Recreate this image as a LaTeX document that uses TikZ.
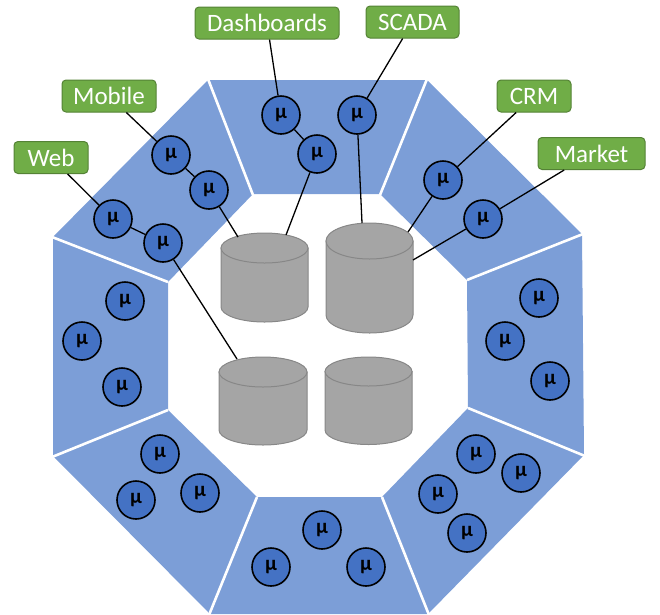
\documentclass[tikz,border=0pt]{standalone}
\usepackage{fontspec}
\setmainfont{Carlito}
\definecolor{segblue}{HTML}{7C9ED7}
\definecolor{msblue}{HTML}{4472C4}
\definecolor{lblgreen}{HTML}{70AD47}
\definecolor{lblborder}{HTML}{548235}
\definecolor{cylgray}{HTML}{A5A5A5}
\definecolor{cylborder}{HTML}{878787}
\begin{document}
\begin{tikzpicture}[x=1pt,y=-1pt,
  ms/.style={circle, draw=black, line width=1.6pt, fill=msblue, minimum size=38pt, inner sep=0pt,
    font=\bfseries\fontsize{21}{21}\selectfont},
  lbl/.style={rounded corners=4pt, draw=lblborder, line width=1pt, fill=lblgreen, text=white,
    font=\fontsize{25}{25}\selectfont, minimum height=32pt, inner sep=0pt},
  link/.style={draw=black, line width=1.3pt},
  cyl/.style={fill=cylgray, draw=cylborder, line width=1pt},
  sep/.style={draw=white, line width=2.6pt}
]
\useasboundingbox (0,0) rectangle (660,614);
% ring of segments
\fill[segblue, even odd rule]
  (208,80) -- (427,80) -- (582,234) -- (584,455) -- (428,614) -- (210,614) -- (53,456) -- (53,237) -- cycle
  (253,194) -- (380,194) -- (467,280) -- (468,408) -- (382,497) -- (257,497) -- (168,410) -- (168,282) -- cycle;
\draw[sep] (208,79) -- (253,195);
\draw[sep] (427,79) -- (380,195);
\draw[sep] (583,234) -- (467,280);
\draw[sep] (585,456) -- (468,408);
\draw[sep] (429,615) -- (382,497);
\draw[sep] (209,615) -- (257,497);
\draw[sep] (52,457) -- (168,410);
\draw[sep] (52,237) -- (168,282);
% cylinders
\filldraw[cyl] (221,248) -- (221,307) arc[start angle=180,end angle=0,x radius=43.5,y radius=15] -- (308,248) -- cycle;
\filldraw[cyl] (264.5,248) ellipse[x radius=43.5,y radius=15];
\filldraw[cyl] (326,241) -- (326,315) arc[start angle=180,end angle=0,x radius=43.5,y radius=18] -- (413,241) -- cycle;
\filldraw[cyl] (369.5,241) ellipse[x radius=43.5,y radius=18];
\filldraw[cyl] (219,372) -- (219,430) arc[start angle=180,end angle=0,x radius=44,y radius=15] -- (307,372) -- cycle;
\filldraw[cyl] (263,372) ellipse[x radius=44,y radius=15];
\filldraw[cyl] (325,371.5) -- (325,430) arc[start angle=180,end angle=0,x radius=43.5,y radius=14.5] -- (412,371.5) -- cycle;
\filldraw[cyl] (368.5,371.5) ellipse[x radius=43.5,y radius=14.5];
% connection points on cylinders
\coordinate (c1a) at (286,235);
\coordinate (c1b) at (238,237);
\coordinate (c2a) at (362,223);
\coordinate (c2b) at (408,232);
\coordinate (c2c) at (413,260);
\coordinate (c3a) at (237,359);
% labels
\node[lbl, minimum width=144pt] (dash) at (267,23) {Dashboards};
\node[lbl, minimum width=93pt] (scada) at (412.5,22) {SCADA};
\node[lbl, minimum width=94pt] (mobile) at (109,96) {Mobile};
\node[lbl, minimum width=74pt] (web) at (51,157.5) {Web};
\node[lbl, minimum width=74pt] (crm) at (534,96) {CRM};
\node[lbl, minimum width=107pt] (market) at (591.5,153.5) {Market};
% microservices
\node[ms] (t1) at (281,115) {μ};
\node[ms] (t2) at (317,154) {μ};
\node[ms] (t3) at (357,115) {μ};
\node[ms] (m1) at (171,155) {μ};
\node[ms] (m2) at (209,190) {μ};
\node[ms] (w1) at (113,219) {μ};
\node[ms] (w2) at (163,243) {μ};
\node[ms] (l1) at (125,301) {μ};
\node[ms] (l2) at (82,341) {μ};
\node[ms] (l3) at (122,387) {μ};
\node[ms] (bl1) at (160,454) {μ};
\node[ms] (bl2) at (136,500) {μ};
\node[ms] (bl3) at (200,493) {μ};
\node[ms] (b1) at (271,567) {μ};
\node[ms] (b2) at (322,530) {μ};
\node[ms] (b3) at (366,567) {μ};
\node[ms] (br1) at (476,454) {μ};
\node[ms] (br2) at (521,473) {μ};
\node[ms] (br3) at (438,494) {μ};
\node[ms] (br4) at (467,533) {μ};
\node[ms] (r1) at (539,298) {μ};
\node[ms] (r2) at (505,341) {μ};
\node[ms] (r3) at (550,381) {μ};
\node[ms] (cr1) at (443,180) {μ};
\node[ms] (mk1) at (483,219) {μ};
% connectors
\draw[link] (dash) -- (t1);
\draw[link] (t1) -- (t2);
\draw[link] (t2) -- (c1a);
\draw[link] (scada) -- (t3);
\draw[link] (t3) -- (c2a);
\draw[link] (crm) -- (cr1);
\draw[link] (cr1) -- (c2b);
\draw[link] (market) -- (mk1);
\draw[link] (mk1) -- (c2c);
\draw[link] (mobile) -- (m1);
\draw[link] (m1) -- (m2);
\draw[link] (m2) -- (c1b);
\draw[link] (web) -- (w1);
\draw[link] (w1) -- (w2);
\draw[link] (w2) -- (c3a);
\end{tikzpicture}
\end{document}
